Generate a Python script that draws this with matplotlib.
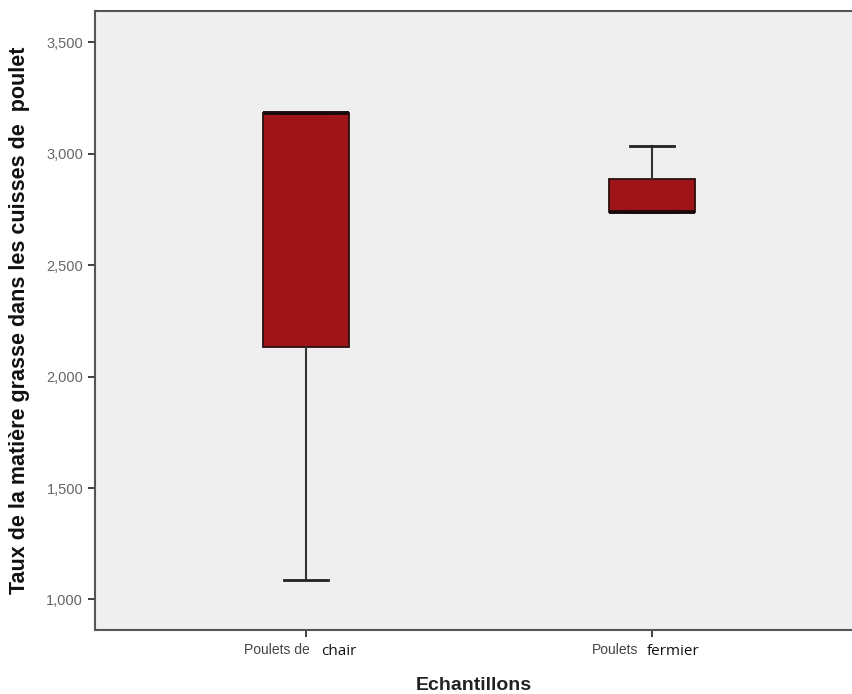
import matplotlib
matplotlib.use("Agg")
import matplotlib.pyplot as plt
import matplotlib.transforms as mtransforms

plt.rcParams['font.family'] = ['Liberation Sans', 'DejaVu Sans']

# box statistics
groups = ["Poulets de chair", "Poulets fermier"]
label_left = ["Poulets de", "Poulets"]
label_right = ["chair", "fermier"]
whislo = [1.087, 2.738]
q1 = [2.134, 2.738]
med = [3.182, 2.738]
q3 = [3.182, 2.885]
whishi = [3.182, 3.033]

yticks = [1.0, 1.5, 2.0, 2.5, 3.0, 3.5]
ytick_labels = ["1,000", "1,500", "2,000", "2,500", "3,000", "3,500"]

stats = []
for i, g in enumerate(groups):
    stats.append(dict(label=g, whislo=whislo[i], q1=q1[i], med=med[i],
                      q3=q3[i], whishi=whishi[i], fliers=[]))

fig = plt.figure(figsize=(8.52, 6.94), dpi=100)
ax = fig.add_axes([95 / 852, 64 / 694, 757 / 852, 619 / 694])
ax.set_facecolor("#efefef")

positions = [1, 2]
ax.bxp(stats, positions=positions, widths=0.25, patch_artist=True,
       showfliers=False,
       boxprops=dict(facecolor="#9e1418", edgecolor="#2a1010", linewidth=1.3),
       medianprops=dict(color="#1a0a0a", linewidth=2.8),
       whiskerprops=dict(color="#333333", linewidth=1.5),
       capprops=dict(color="#222222", linewidth=2.0),
       capwidths=0.125)

ax.set_xlim(0.39, 2.578)
ax.set_ylim(0.863, 3.640)
ax.set_yticks(yticks)
ax.set_yticklabels(ytick_labels)
ax.set_xticks(positions)
ax.set_xticklabels(["", ""])

for side in ["top", "bottom", "left"]:
    ax.spines[side].set_color("#555555")
    ax.spines[side].set_linewidth(1.5)
ax.spines["right"].set_visible(False)
ax.tick_params(axis="y", colors="#333333", labelcolor="#666666", labelsize=10.5,
               length=5, width=1.3)
ax.tick_params(axis="x", colors="#333333", length=5, width=1.3)

trans = mtransforms.blended_transform_factory(ax.transData, ax.transAxes)
left_dx = [4, -14]
right_dx = [15, -5]
for i, p in enumerate(positions):
    ax.annotate(label_left[i], xy=(p, 0), xycoords=trans,
                xytext=(left_dx[i], -13), textcoords="offset pixels",
                ha="right", va="top", fontsize=10, color="#444444")
    ax.annotate(label_right[i], xy=(p, 0), xycoords=trans,
                xytext=(right_dx[i], -14), textcoords="offset pixels",
                ha="left", va="top", fontsize=11, color="#111111",
                family=["Open Sans", "DejaVu Sans"])

ax.set_xlabel("Echantillons", fontsize=14, fontweight="bold", color="#222222",
              labelpad=25)
ax.set_ylabel("Taux de la matière grasse dans les cuisses de  poulet",
              fontsize=15.5, fontweight="bold", color="#111111", labelpad=12)

fig.savefig("out.png", dpi=100)
